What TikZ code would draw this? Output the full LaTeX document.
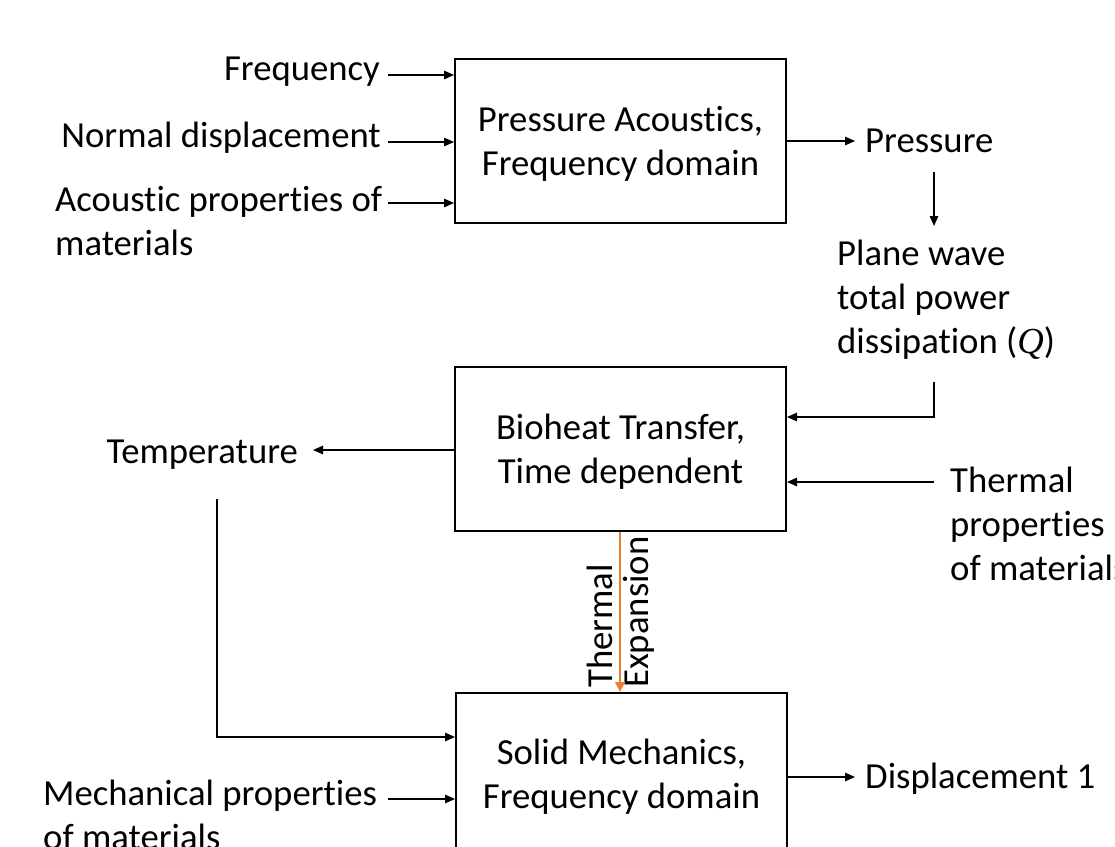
\documentclass[tikz,border=0pt]{standalone}
\usepackage{fontspec}
\setmainfont[Ligatures=NoCommon]{Carlito}
\newfontfamily\qfont{Liberation Serif}
\usetikzlibrary{arrows.meta}
\definecolor{orng}{RGB}{237,125,49}
\begin{document}
\begin{tikzpicture}[x=1pt,y=-1pt,
  lbl/.style={inner sep=0pt, font=\fontsize{36.7}{44}\selectfont},
  ml/.style={lbl, align=left},
  bt/.style={lbl, align=center, anchor=base},
  blk/.style={draw, line width=2pt, minimum width=331pt, minimum height=164pt, inner sep=0pt},
  arr/.style={line width=1.3pt, -{Triangle[length=10pt,width=8.5pt]}},
  oarr/.style={line width=2.8pt, draw=orng, -{Triangle[length=10pt,width=9.5pt,fill=orng]}}
]
\useasboundingbox (0,0) rectangle (1115,846);
\clip (0,0) rectangle (1115,846);

% blocks
\node[blk] (pa) at (620.5,141) {};
\node[blk] (bh) at (620.5,448.5) {};
\node[blk] (sm) at (621.5,775) {};
\node[bt] (pat) at ([yshift=-34pt]pa.center) {Pressure Acoustics,\\Frequency domain};
\node[bt] (bht) at ([yshift=-35pt]bh.center) {Bioheat Transfer,\\Time dependent};
\node[bt] (smt) at ([yshift=-33pt]sm.center) {Solid Mechanics,\\Frequency domain};

% labels
\node[lbl, anchor=base east] (freq) at (380,80) {Frequency};
\node[lbl, anchor=base east] (nd) at (381,147) {Normal displacement};
\node[ml, anchor=base west] (acp) at (55,255) {Acoustic properties of\\materials};
\node[lbl, anchor=base west] (pr) at (865,152) {Pressure};
\node[ml, anchor=base west] (pw) at (837,353) {Plane wave\\total power\\dissipation ({\qfont\itshape Q})};
\node[lbl, anchor=base east] (temp) at (298,463) {Temperature};
\node[ml, anchor=base west] (tp) at (950,580) {Thermal\\properties\\of materials};
\node[ml, anchor=base west] (mp) at (43,849) {Mechanical properties\\of materials};
\node[lbl, anchor=base west] (disp) at (865,788) {Displacement 1};
\node[lbl, rotate=90, anchor=base west] (th) at (612,688) {Thermal};
\node[lbl, rotate=90, anchor=base west] (ex) at (648,688) {Expansion};

% coordinates
\coordinate (f0) at (388,75);
\coordinate (n0) at (388,142);
\coordinate (a0) at (388,203);
\coordinate (p1) at (855,141);
\coordinate (pd0) at (934,172);
\coordinate (pd1) at (934,226);
\coordinate (q0) at (934,382);
\coordinate (q1) at (934,417);
\coordinate (t0) at (934,482);
\coordinate (te) at (313,450);
\coordinate (td0) at (217,499);
\coordinate (td1) at (217,737);
\coordinate (m0) at (388,799);
\coordinate (d0) at (855,777);
\coordinate (o) at (620,0);

% connectors
\draw[arr] (f0) -- (f0 -| pa.west);
\draw[arr] (n0) -- (n0 -| pa.west);
\draw[arr] (a0) -- (a0 -| pa.west);
\draw[arr] (p1 -| pa.east) -- (p1);
\draw[arr] (pd0) -- (pd1);
\draw[arr] (q0) -- (q1) -- (q1 -| bh.east);
\draw[arr] (t0) -- (t0 -| bh.east);
\draw[arr] (te -| bh.west) -- (te);
\draw[arr] (td0) -- (td1) -- (td1 -| sm.west);
\draw[arr] (m0) -- (m0 -| sm.west);
\draw[arr] (d0 -| sm.east) -- (d0);
\draw[oarr] (o |- bh.south) -- (o |- sm.north);
\end{tikzpicture}
\end{document}
